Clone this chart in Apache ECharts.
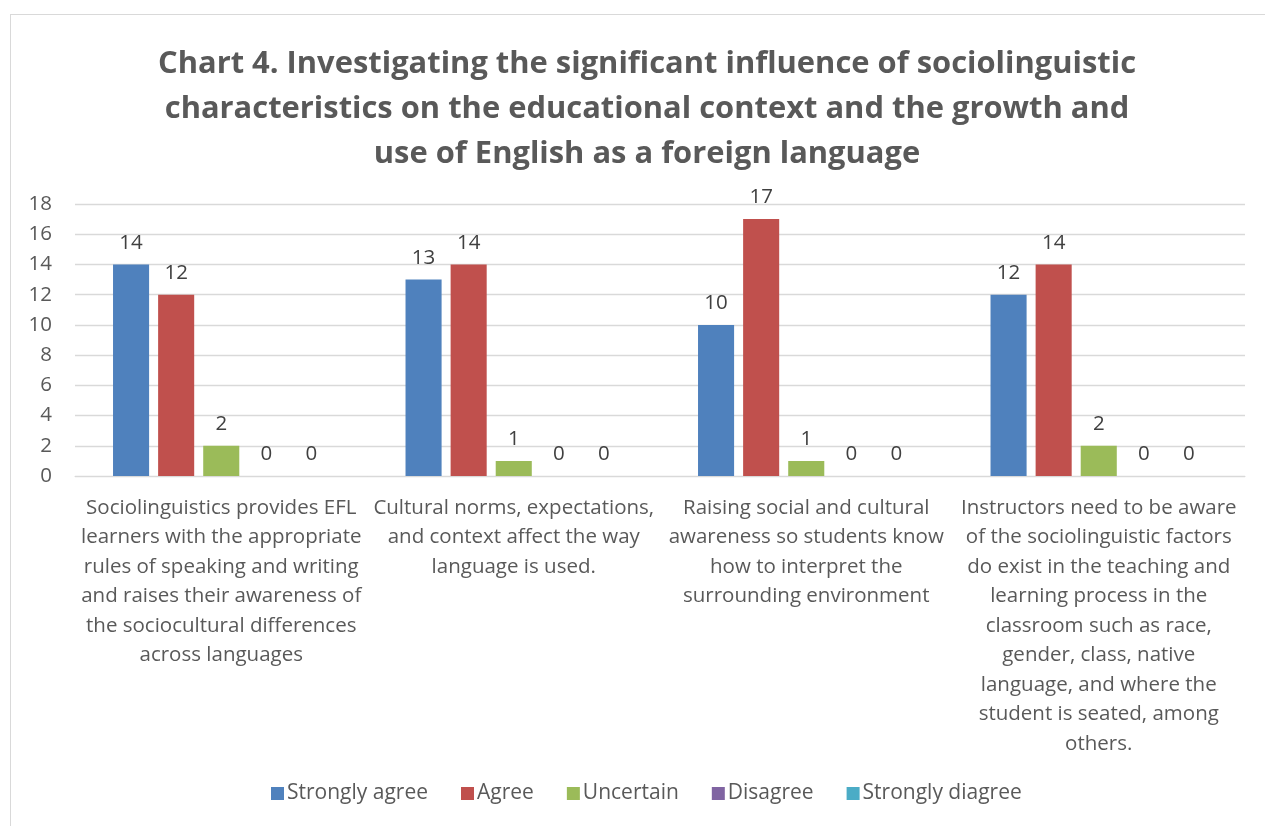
<!DOCTYPE html>
<html><head><meta charset="utf-8">
<script src="https://cdn.jsdelivr.net/npm/echarts@6/dist/echarts.min.js"></script>
<style>
html,body{margin:0;padding:0;background:#fff;}
#frame{position:absolute;left:10px;top:14px;width:1270px;height:830px;border:1px solid #d9d9d9;box-sizing:border-box;}
#c{position:absolute;left:0;top:0;width:1265px;height:826px;}
</style></head>
<body><div id="frame"></div><div id="c"></div>
<script>
var categories = [
  ["Sociolinguistics provides EFL", "learners with the appropriate", "rules of speaking and writing", "and raises their awareness of", "the sociocultural differences", "across languages"],
  ["Cultural norms, expectations,", "and context affect the way", "language is used."],
  ["Raising social and cultural", "awareness so students know", "how to interpret the", "surrounding environment"],
  ["Instructors need to be aware", "of the sociolinguistic factors", "do exist in the teaching and", "learning process in the", "classroom such as race,", "gender, class, native", "language, and where the", "student is seated, among", "others."]
];
var seriesNames = ["Strongly agree", "Agree", "Uncertain", "Disagree", "Strongly diagree"];
var stronglyAgree = [14, 13, 10, 12];
var agree = [12, 14, 17, 14];
var uncertain = [2, 1, 1, 2];
var disagree = [0, 0, 0, 0];
var stronglyDisagree = [0, 0, 0, 0];
var yTicks = [0, 2, 4, 6, 8, 10, 12, 14, 16, 18];

var colors = ["#4F81BD", "#C0504D", "#9BBB59", "#8064A2", "#4BACC6"];
var values = [stronglyAgree, agree, uncertain, disagree, stronglyDisagree];
var font = "Open Sans";
var chart = echarts.init(document.getElementById('c'));
chart.setOption({
  animation: false,
  title: {
    text: "Chart 4. Investigating the significant influence of sociolinguistic\ncharacteristics on the educational context and the growth and\nuse of English as a foreign language",
    left: 642, top: 37, textAlign: 'center',
    textStyle: { fontFamily: font, fontWeight: 'bold', fontSize: 30.9, lineHeight: 45, color: '#595959' }
  },
  legend: {
    bottom: 17, left: 266, itemWidth: 13, itemHeight: 13, itemGap: 33,
    icon: 'rect',
    textStyle: { fontFamily: font, fontSize: 21, color: '#595959', padding: [0, 0, 0, -2] },
    data: seriesNames
  },
  grid: { left: 75, right: 20, top: 204, bottom: 350, containLabel: false },
  xAxis: {
    type: 'category',
    data: categories.map(function (c) { return c.join('\n'); }),
    axisLine: { show: true, lineStyle: { color: '#d9d9d9' } },
    axisTick: { show: false },
    axisLabel: { fontFamily: font, fontSize: 20.5, lineHeight: 29.5, color: '#595959', interval: 0, margin: 17 }
  },
  yAxis: {
    type: 'value', min: 0, max: 18, interval: 2,
    axisLine: { show: false }, axisTick: { show: false },
    splitLine: { lineStyle: { color: '#d9d9d9', width: 1.3 } },
    axisLabel: { fontFamily: font, fontSize: 20.5, color: '#595959', margin: 23,
      formatter: function (v) { return yTicks.indexOf(v) >= 0 ? String(v) : ''; } }
  },
  series: seriesNames.map(function (n, i) {
    return {
      name: n, type: 'bar', data: values[i], barGap: '25%', barCategoryGap: '26%',
      itemStyle: { color: colors[i] },
      label: { show: true, position: 'top', distance: 11, fontFamily: font, fontSize: 20.5, color: '#404040' }
    };
  })
});
</script></body></html>
